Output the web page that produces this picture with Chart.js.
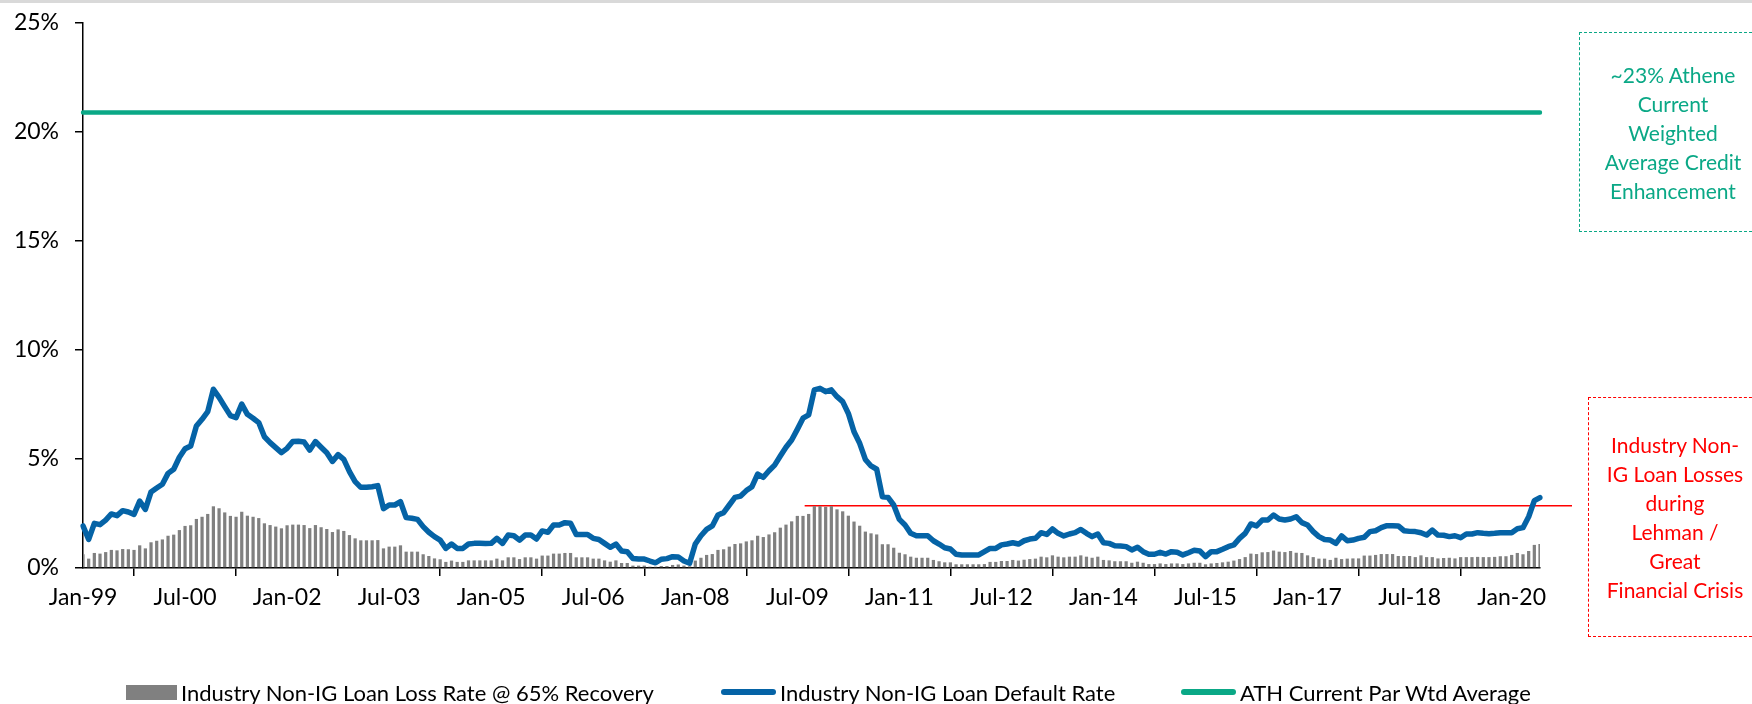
<!DOCTYPE html>
<html>
<head>
<meta charset="utf-8">
<title>Non-IG loan losses vs ATH credit enhancement</title>
<script src="https://cdn.jsdelivr.net/npm/chart.js@4.4.1/dist/chart.umd.min.js"></script>
<style>
  body { margin: 0; background: #fff; overflow: hidden; font-family: Lato, sans-serif; }
  #wrap { position: relative; width: 1752px; height: 704px; }
  #topband { position: absolute; left: 0; top: 0; width: 1752px; height: 3px; background: #d9d9d9; }
  .note { position: absolute; display: flex; align-items: center; justify-content: center;
          text-align: center; font-size: 21px; line-height: 29px; box-sizing: border-box; }
  #noteAth { left: 1579px; top: 32px; width: 188px; height: 200px; border: 1.5px dashed #0aa886; color: #0aa886; }
  #noteGfc { left: 1588px; top: 397px; width: 174px; height: 240px; border: 1.5px dashed #ff0000; color: #ff0000; }
  .lg { position: absolute; top: 679px; height: 26px; display: flex; align-items: center;
        font-size: 22px; color: #000; white-space: nowrap; }
  .lg i { display: inline-block; margin-right: 4px; }
</style>
</head>
<body>
<div id="wrap">
  <canvas id="chart" width="1752" height="704"></canvas>
  <div id="topband"></div>
  <div class="note" id="noteAth">~23% Athene<br>Current<br>Weighted<br>Average Credit<br>Enhancement</div>
  <div class="note" id="noteGfc">Industry Non-<br>IG Loan Losses<br>during<br>Lehman /<br>Great<br>Financial Crisis</div>
</div>
<script>
// monthly, Jan-99 .. Jun-20 (values in %)
const defaultRate = [
  1.93,1.31,2.05,1.99,2.20,2.48,2.40,2.63,2.57,2.46,
  3.07,2.69,3.49,3.67,3.84,4.34,4.53,5.08,5.47,5.60,
  6.51,6.82,7.17,8.20,7.83,7.40,6.99,6.90,7.52,7.05,
  6.87,6.67,6.02,5.75,5.52,5.29,5.49,5.80,5.81,5.78,
  5.41,5.80,5.54,5.29,4.89,5.20,4.98,4.42,3.96,3.70,
  3.70,3.73,3.78,2.72,2.89,2.89,3.04,2.31,2.28,2.23,
  1.90,1.64,1.44,1.28,0.90,1.10,0.90,0.90,1.10,1.13,
  1.13,1.12,1.13,1.36,1.13,1.51,1.48,1.28,1.51,1.51,
  1.33,1.70,1.64,1.97,1.97,2.08,2.05,1.54,1.54,1.54,
  1.36,1.31,1.13,0.95,1.10,0.78,0.75,0.44,0.41,0.41,
  0.32,0.24,0.40,0.43,0.52,0.50,0.32,0.22,1.10,1.48,
  1.77,1.93,2.43,2.54,2.89,3.24,3.30,3.55,3.73,4.31,
  4.16,4.46,4.72,5.14,5.54,5.87,6.36,6.87,7.02,8.17,
  8.24,8.09,8.17,7.86,7.63,7.09,6.25,5.72,4.98,4.68,
  4.53,3.27,3.24,2.89,2.23,1.97,1.59,1.48,1.48,1.48,
  1.25,1.10,0.93,0.87,0.63,0.60,0.60,0.60,0.60,0.75,
  0.90,0.90,1.06,1.10,1.16,1.10,1.25,1.33,1.36,1.62,
  1.54,1.79,1.59,1.47,1.56,1.62,1.77,1.59,1.44,1.56,
  1.16,1.13,1.02,1.01,0.98,0.83,0.95,0.75,0.63,0.63,
  0.72,0.64,0.75,0.72,0.60,0.70,0.81,0.78,0.52,0.75,
  0.75,0.86,0.98,1.06,1.36,1.59,2.02,1.93,2.20,2.20,
  2.43,2.25,2.20,2.25,2.35,2.08,1.97,1.67,1.44,1.31,
  1.28,1.13,1.47,1.25,1.28,1.36,1.41,1.67,1.71,1.85,
  1.94,1.94,1.93,1.71,1.68,1.67,1.62,1.51,1.74,1.51,
  1.50,1.44,1.48,1.39,1.56,1.56,1.62,1.59,1.57,1.59,
  1.62,1.62,1.62,1.80,1.85,2.35,3.09,3.23
];
const lossRate = [
  0.63,0.43,0.69,0.66,0.73,0.83,0.81,0.87,0.86,0.83,
  1.04,0.90,1.18,1.25,1.31,1.48,1.53,1.74,1.93,1.96,
  2.25,2.35,2.48,2.83,2.74,2.55,2.39,2.35,2.58,2.40,
  2.35,2.29,2.05,1.97,1.90,1.82,1.96,1.99,1.99,1.97,
  1.83,1.97,1.87,1.79,1.65,1.77,1.70,1.51,1.36,1.27,
  1.27,1.27,1.28,0.90,0.98,0.98,1.04,0.75,0.75,0.75,
  0.63,0.55,0.44,0.40,0.28,0.34,0.28,0.28,0.35,0.35,
  0.35,0.35,0.35,0.43,0.35,0.49,0.49,0.41,0.49,0.49,
  0.43,0.57,0.57,0.66,0.66,0.69,0.69,0.49,0.49,0.49,
  0.43,0.43,0.35,0.29,0.35,0.23,0.23,0.11,0.11,0.11,
  0.06,0.06,0.09,0.09,0.14,0.16,0.11,0.08,0.34,0.47,
  0.60,0.64,0.83,0.86,0.98,1.10,1.13,1.22,1.27,1.48,
  1.42,1.54,1.64,1.85,1.99,2.14,2.39,2.39,2.48,2.84,
  2.84,2.81,2.84,2.69,2.60,2.40,2.13,1.94,1.67,1.59,
  1.54,1.09,1.09,0.93,0.70,0.63,0.52,0.47,0.47,0.47,
  0.37,0.31,0.26,0.26,0.17,0.17,0.17,0.17,0.17,0.18,
  0.28,0.28,0.32,0.32,0.37,0.34,0.38,0.41,0.43,0.52,
  0.49,0.58,0.52,0.49,0.52,0.52,0.58,0.52,0.47,0.52,
  0.37,0.35,0.31,0.31,0.31,0.24,0.29,0.24,0.18,0.18,
  0.21,0.18,0.21,0.21,0.18,0.21,0.24,0.24,0.17,0.21,
  0.23,0.26,0.29,0.34,0.41,0.50,0.66,0.64,0.72,0.73,
  0.80,0.75,0.73,0.78,0.70,0.69,0.58,0.50,0.43,0.43,
  0.37,0.47,0.41,0.43,0.44,0.44,0.57,0.57,0.60,0.64,
  0.64,0.64,0.55,0.55,0.55,0.50,0.58,0.50,0.50,0.44,
  0.46,0.47,0.44,0.50,0.50,0.50,0.51,0.50,0.50,0.51,
  0.54,0.54,0.60,0.69,0.63,0.78,1.06,1.10
];
const athParWtdAvg = 20.9;      // flat reference line
const gfcLossPeak = 2.86;       // red line level
const gfcFrom = 'Sep-09';       // red line starts here
const xTickLabels = ['Jan-99','Jul-00','Jan-02','Jul-03','Jan-05','Jul-06','Jan-08','Jul-09',
                     'Jan-11','Jul-12','Jan-14','Jul-15','Jan-17','Jul-18','Jan-20'];
const yTicks = [0, 5, 10, 15, 20, 25];

const monthNames = ['Jan','Feb','Mar','Apr','May','Jun','Jul','Aug','Sep','Oct','Nov','Dec'];
const categories = [];
for (let i = 0; i < defaultRate.length; i++) {
  const yy = (99 + Math.floor(i / 12)) % 100;
  categories.push(monthNames[i % 12] + '-' + String(yy).padStart(2, '0'));
}

Chart.defaults.font.family = 'Lato, sans-serif';
Chart.defaults.color = '#000';

// red horizontal marker for the GFC loss peak, runs past the plot edge
const gfcLine = {
  id: 'gfcLine',
  beforeDatasetsDraw(chart) {
    const {ctx, chartArea} = chart;
    const x = chart.scales.x, y = chart.scales.y;
    const py = y.getPixelForValue(gfcLossPeak);
    ctx.save();
    ctx.strokeStyle = '#ff0000';
    ctx.lineWidth = 1.5;
    ctx.beginPath();
    ctx.moveTo(x.getPixelForValue(categories.indexOf(gfcFrom)) - 4, py);
    ctx.lineTo(chartArea.right + 32, py);
    ctx.stroke();
    ctx.restore();
  }
};

const tickFont = {family: 'Lato, sans-serif', size: 23};

const chart = new Chart(document.getElementById('chart'), {
  type: 'bar',
  data: {
    labels: categories,
    datasets: [
      {
        type: 'bar',
        label: 'Industry Non-IG Loan Loss Rate @ 65% Recovery',
        data: lossRate,
        backgroundColor: '#808080',
        barPercentage: 0.57,
        categoryPercentage: 1,
        order: 3
      },
      {
        type: 'line',
        label: 'Industry Non-IG Loan Default Rate',
        data: defaultRate,
        borderColor: '#0563a6',
        borderWidth: 5.5,
        pointRadius: 0,
        tension: 0,
        borderCapStyle: 'round',
        borderJoinStyle: 'round',
        order: 2
      },
      {
        type: 'line',
        label: 'ATH Current Par Wtd Average',
        data: categories.map(() => athParWtdAvg),
        borderColor: '#0aa886',
        borderWidth: 4.5,
        pointRadius: 0,
        borderCapStyle: 'round',
        order: 1
      }
    ]
  },
  options: {
    responsive: false,
    animation: false,
    devicePixelRatio: 1,
    layout: {padding: {top: 23, right: 212, left: 0, bottom: 0}},
    plugins: {legend: {display: false}, tooltip: {enabled: false}},
    scales: {
      x: {
        offset: false,
        grid: {display: true, drawOnChartArea: false, drawTicks: true, tickLength: 8, color: '#000', lineWidth: 1.5},
        border: {color: '#000', width: 1.5},
        ticks: {autoSkip: false, maxRotation: 0, padding: 8, color: '#000', font: tickFont,
                callback: (v) => categories[v]},
        afterBuildTicks: (s) => { s.ticks = s.ticks.filter(t => xTickLabels.includes(categories[t.value])); },
        afterFit: (s) => { s.height = 136; }
      },
      y: {
        min: 0,
        max: 25,
        grid: {display: true, drawOnChartArea: false, drawTicks: true, tickLength: 8, color: '#000', lineWidth: 1.5},
        border: {color: '#000', width: 1.5},
        ticks: {padding: 16, color: '#000', font: tickFont, callback: (v) => v + '%'},
        afterBuildTicks: (s) => { s.ticks = yTicks.map(v => ({value: v})); },
        afterFit: (s) => { s.width = 83; s.paddingTop = 0; s.paddingBottom = 0; }
      }
    }
  },
  plugins: [gfcLine]
});

// legend row under the plot, built from the datasets
const legendX = [126, 721, 1181];
const wrap = document.getElementById('wrap');
chart.data.datasets.forEach((ds, k) => {
  const item = document.createElement('div');
  item.className = 'lg';
  item.style.left = legendX[k] + 'px';
  const sw = document.createElement('i');
  if (ds.type === 'bar') {
    sw.style.cssText = 'width:51px;height:15px;background:' + ds.backgroundColor;
  } else {
    sw.style.cssText = 'width:55px;height:6px;border-radius:3px;background:' + ds.borderColor;
  }
  item.appendChild(sw);
  item.appendChild(document.createTextNode(ds.label));
  wrap.appendChild(item);
});
</script>
</body>
</html>
